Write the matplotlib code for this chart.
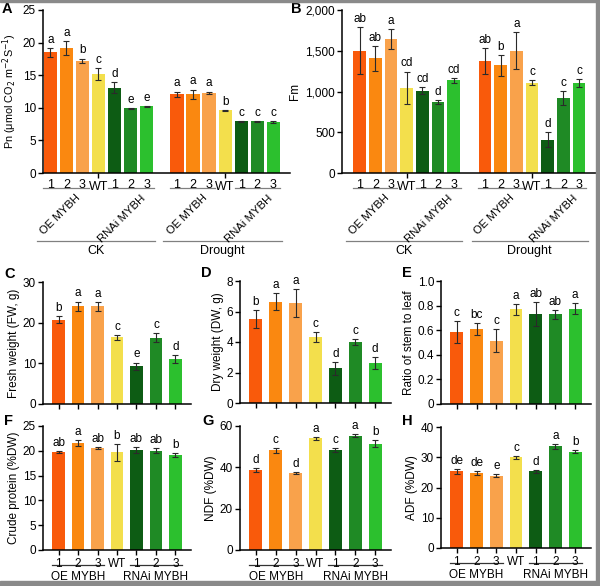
import numpy as np
import matplotlib
matplotlib.use('Agg')
import matplotlib.pyplot as plt
import matplotlib.transforms as mtrans
from matplotlib.ticker import FuncFormatter
from matplotlib.patches import Rectangle

plt.rcParams['font.family'] = ['Liberation Sans', 'DejaVu Sans']

W, H = 600, 586

# 数据
line_labels = ['1', '2', '3', 'WT', '1', '2', '3']
colors = ['#F95A0B', '#FA8810', '#F9A24B', '#F3DF4C', '#0D5C14', '#1F8A25', '#2CC02E']

# A: Pn
pn_ck = [18.5, 19.2, 17.2, 15.2, 13.1, 9.9, 10.2]
pn_ck_err = [0.65, 1.05, 0.35, 0.95, 0.85, 0.1, 0.1]
pn_ck_sig = ['a', 'a', 'b', 'c', 'd', 'e', 'e']
pn_dr = [12.1, 12.1, 12.3, 9.6, 7.9, 7.9, 7.8]
pn_dr_err = [0.4, 0.7, 0.2, 0.1, 0.1, 0.1, 0.1]
pn_dr_sig = ['a', 'a', 'a', 'b', 'c', 'c', 'c']

# B: Fm
fm_ck = [1500, 1405, 1645, 1045, 1010, 870, 1135]
fm_ck_err = [290, 155, 120, 200, 40, 20, 35]
fm_ck_sig = ['ab', 'ab', 'a', 'cd', 'cd', 'd', 'cd']
fm_dr = [1375, 1320, 1500, 1110, 410, 925, 1105]
fm_dr_err = [160, 125, 225, 35, 95, 85, 45]
fm_dr_sig = ['ab', 'b', 'a', 'c', 'd', 'c', 'c']

# C-H
fw = [20.7, 24.0, 24.0, 16.4, 9.3, 16.3, 11.0]
fw_err = [0.85, 1.2, 1.05, 0.65, 0.9, 1.1, 1.0]
fw_sig = ['b', 'a', 'a', 'c', 'e', 'c', 'd']

dw = [5.5, 6.65, 6.55, 4.33, 2.27, 4.02, 2.62]
dw_err = [0.57, 0.55, 0.9, 0.32, 0.44, 0.2, 0.42]
dw_sig = ['b', 'a', 'a', 'c', 'd', 'c', 'd']

ratio = [0.585, 0.61, 0.515, 0.77, 0.73, 0.73, 0.775]
ratio_err = [0.09, 0.045, 0.092, 0.045, 0.098, 0.037, 0.043]
ratio_sig = ['c', 'bc', 'c', 'a', 'ab', 'ab', 'a']

cp = [19.8, 21.6, 20.5, 19.7, 20.2, 20.0, 19.15]
cp_err = [0.2, 0.6, 0.2, 1.7, 0.6, 0.5, 0.45]
cp_sig = ['ab', 'a', 'ab', 'b', 'ab', 'ab', 'b']

ndf = [38.8, 48.2, 37.3, 54.0, 48.3, 55.4, 51.5]
ndf_err = [0.9, 1.1, 0.3, 0.6, 1.0, 0.6, 1.9]
ndf_sig = ['d', 'c', 'd', 'a', 'c', 'a', 'b']

adf = [25.3, 24.7, 23.9, 30.0, 25.4, 33.6, 31.9]
adf_err = [0.9, 0.65, 0.45, 0.5, 0.45, 0.75, 0.5]
adf_sig = ['de', 'de', 'e', 'c', 'd', 'a', 'b']

FS = 8.5

fig = plt.figure(figsize=(W / 100, H / 100), dpi=100)


def px_axes(l, t, r, b):
    ax = fig.add_axes([l / W, 1 - b / H, (r - l) / W, (b - t) / H])
    for s in ['top', 'right']:
        ax.spines[s].set_visible(False)
    for s in ['left', 'bottom']:
        ax.spines[s].set_linewidth(1.1)
    ax.tick_params(labelsize=FS, length=3.5, width=1.0, pad=1.5)
    return ax


def draw_bars(ax, x, vals, errs, sigs, width):
    ax.bar(x, vals, width, color=colors, yerr=errs,
           error_kw=dict(ecolor='#2a2a2a', elinewidth=0.8, capsize=2.5, capthick=0.8))
    for xi, v, e, s in zip(x, vals, errs, sigs):
        ax.annotate(s, xy=(xi, v + e), xytext=(0, 1.5), textcoords='offset points',
                    ha='center', va='bottom', fontsize=FS, annotation_clip=False)


def below(ax, px):
    # x 为数据坐标, y 为轴底部向下 px 像素
    return (mtrans.blended_transform_factory(ax.transData, ax.transAxes)
            + mtrans.ScaledTranslation(0, -px / 100, fig.dpi_scale_trans))


def txt_below(ax, x, px, s, fs=FS, **kw):
    ax.text(x, 0, s, transform=below(ax, px), fontsize=fs, clip_on=False, **kw)


def line_below(ax, x0, x1, px, color):
    ax.plot([x0, x1], [0, 0], transform=below(ax, px), color=color, lw=0.9, clip_on=False)


def panel_label(x, y, s):
    fig.text(x / W, 1 - y / H, s, fontsize=10.5, fontweight='bold', ha='left', va='top')


# ---------- A / B ----------
def draw_top(ax, off, ck, ck_e, ck_s, dr, dr_e, dr_s, xlim, ylim, yticks):
    x1 = np.arange(7)
    x2 = np.arange(7) + off
    draw_bars(ax, x1, ck, ck_e, ck_s, 0.82)
    draw_bars(ax, x2, dr, dr_e, dr_s, 0.82)
    ax.set_xlim(*xlim)
    ax.set_ylim(*ylim)
    ax.set_yticks(yticks)
    ax.set_xticks([3, 3 + off])
    ax.set_xticklabels([])
    for base, grp in [(0, 'CK'), (off, 'Drought')]:
        for i, lab in enumerate(line_labels):
            if lab == 'WT':
                txt_below(ax, base + i, 8, lab, fs=9, ha='center', va='top')
            else:
                txt_below(ax, base + i, 5.5, lab, fs=9, ha='center', va='top')
        line_below(ax, base - 0.45, base + 2.4, 14.5, '#808080')
        line_below(ax, base + 3.6, base + 6.45, 14.5, '#808080')
        txt_below(ax, base + 2.0, 20, 'OE MYBH', fs=8.2, ha='right', va='top', rotation=45)
        txt_below(ax, base + 6.05, 20, 'RNAi MYBH', fs=8.2, ha='right', va='top', rotation=45)
        line_below(ax, base - 0.85, base + 6.55, 68, '#808080')
        txt_below(ax, base + 2.85, 71.5, grp, fs=9, ha='center', va='top')


axA = px_axes(43, 10, 290, 173)
draw_top(axA, 7.9, pn_ck, pn_ck_err, pn_ck_sig, pn_dr, pn_dr_err, pn_dr_sig,
         (-0.46, 14.95), (0, 25), [0, 5, 10, 15, 20, 25])
axA.set_ylabel('Pn (μmol CO$_2$ m$^{-2}$S$^{-1}$)', fontsize=7.8, labelpad=3)

axB = px_axes(342, 10, 597, 173)
draw_top(axB, 8.0, fm_ck, fm_ck_err, fm_ck_sig, fm_dr, fm_dr_err, fm_dr_sig,
         (-1.13, 15.15), (0, 2000), [0, 500, 1000, 1500, 2000])
axB.yaxis.set_major_formatter(FuncFormatter(lambda v, p: f'{int(v):,}'))
axB.set_ylabel('Fm', fontsize=8.5, labelpad=3)

panel_label(2, 2, 'A')
panel_label(291, 2, 'B')


# ---------- C - H ----------
def draw_small(ax, vals, errs, sigs, ylim, yticks, ylabel, fmt=None, xlabels=False):
    x = np.arange(7)
    draw_bars(ax, x, vals, errs, sigs, 0.65)
    ax.set_xlim(-0.8, 6.8)
    ax.set_ylim(*ylim)
    ax.set_yticks(yticks)
    ax.set_xticks(x)
    ax.set_xticklabels([])
    if fmt is not None:
        ax.yaxis.set_major_formatter(FuncFormatter(fmt))
    ax.set_ylabel(ylabel, fontsize=8.5, labelpad=2)
    if xlabels:
        for i, lab in enumerate(line_labels):
            txt_below(ax, i, 8, lab, ha='center', va='top')
        line_below(ax, -0.35, 2.35, 15, '#333333')
        line_below(ax, 3.65, 6.35, 15, '#333333')
        txt_below(ax, 1, 20.5, 'OE MYBH', ha='center', va='top')
        txt_below(ax, 5, 20.5, 'RNAi MYBH', ha='center', va='top')


def ratio_fmt(v, p):
    return '0' if v == 0 else f'{v:.1f}'


axC = px_axes(43, 282, 191, 404)
draw_small(axC, fw, fw_err, fw_sig, (0, 30), [0, 10, 20, 30], 'Fresh weight (FW, g)')
axD = px_axes(240, 281, 391, 403)
draw_small(axD, dw, dw_err, dw_sig, (0, 8), [0, 2, 4, 6, 8], 'Dry weight (DW, g)')
axE = px_axes(441, 281, 591, 404)
draw_small(axE, ratio, ratio_err, ratio_sig, (0, 1.0), [0, 0.2, 0.4, 0.6, 0.8, 1.0],
           'Ratio of stem to leaf', fmt=ratio_fmt)

axF = px_axes(43, 426, 191, 550)
draw_small(axF, cp, cp_err, cp_sig, (0, 25), [0, 5, 10, 15, 20, 25],
           'Crude protein (%DW)', xlabels=True)
axG = px_axes(240, 426, 391, 550)
draw_small(axG, ndf, ndf_err, ndf_sig, (0, 60), [0, 20, 40, 60], 'NDF (%DW)', xlabels=True)
axH = px_axes(441, 427, 591, 548)
draw_small(axH, adf, adf_err, adf_sig, (0, 40), [0, 10, 20, 30, 40], 'ADF (%DW)', xlabels=True)

panel_label(4, 267, 'C')
panel_label(201, 266, 'D')
panel_label(402, 266, 'E')
panel_label(4, 414, 'F')
panel_label(202, 414, 'G')
panel_label(402, 414, 'H')

# 截图边框
for (l, t, r, b) in [(0, 581, 600, 586), (596, 0, 600, 586), (0, 0, 600, 2)]:
    fig.patches.append(Rectangle((l / W, 1 - b / H), (r - l) / W, (b - t) / H,
                                 transform=fig.transFigure, color='#8a8a8a', zorder=10))

fig.savefig('out.png', dpi=100)
plt.close(fig)
